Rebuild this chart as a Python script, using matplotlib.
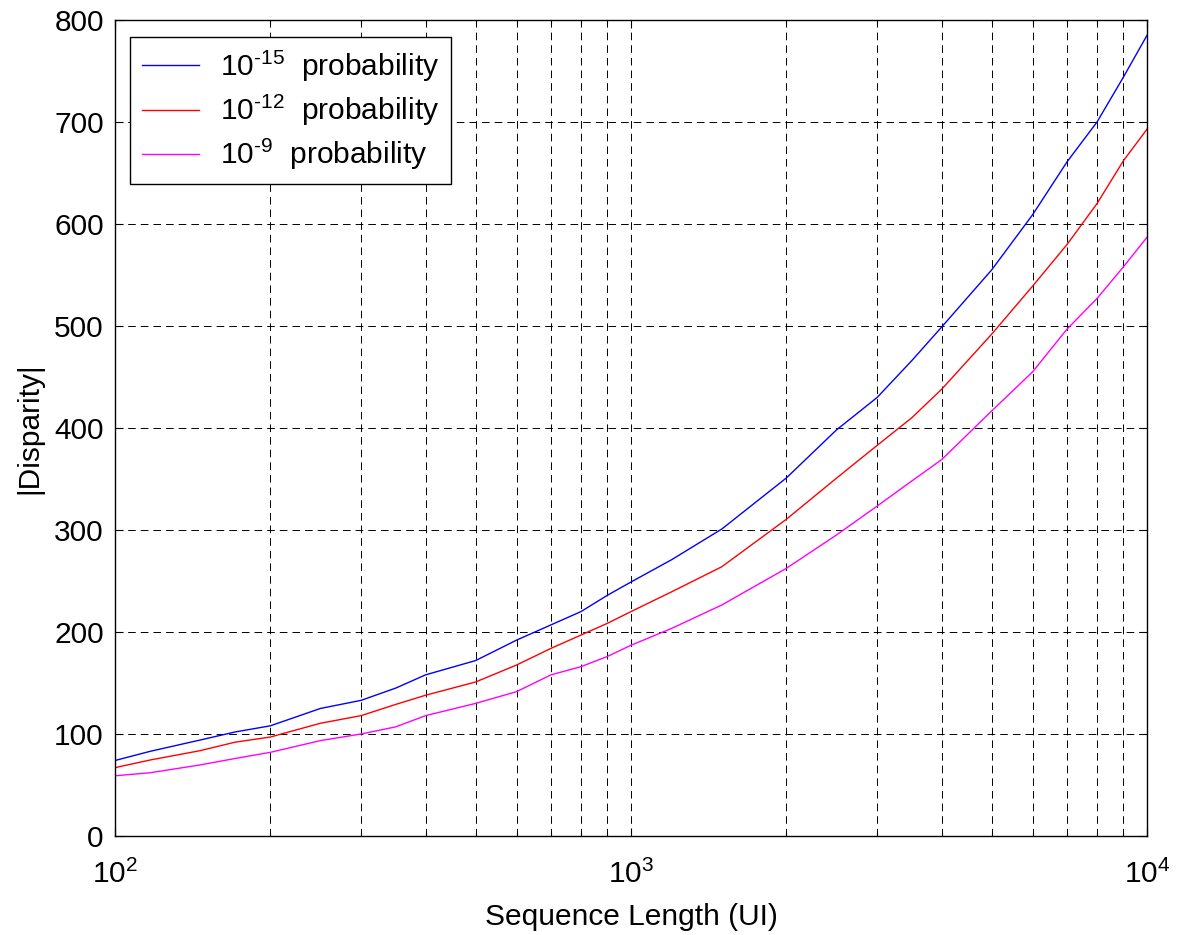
import numpy as np
import matplotlib
matplotlib.use('Agg')
import matplotlib.pyplot as plt
from matplotlib.ticker import LogLocator, NullFormatter, MultipleLocator

# sequence lengths (UI) and |disparity|
seq_len = [100, 117, 146, 171, 200, 250, 300, 350, 400, 500, 600, 700, 800, 900,
           1000, 1200, 1500, 2000, 2500, 3000, 3500, 4000, 5000, 6000, 7000,
           8000, 9000, 10000]
disp_1e15 = [74, 83, 94, 102, 108, 125, 133, 145, 158, 172, 192, 207, 220, 236,
             249, 271, 301, 351, 398, 430, 466, 499, 555, 609, 661, 700, 744, 785]
disp_1e12 = [67, 74.5, 83.6, 92, 97, 110.5, 118, 129, 138, 151, 167.6, 184, 197, 208.5,
             220, 239.5, 264, 310.5, 350.7, 383, 410, 438, 492, 539, 580, 620, 662, 693]
disp_1e9 = [59, 62, 69.6, 76, 82, 93.5, 100, 107, 118, 130, 141.5, 158, 166, 176,
            187, 203.6, 226.5, 262.4, 295, 323.5, 348, 369, 416.7, 455, 497, 527, 558, 587]

# hyphen (U+2010) instead of a math minus, like the MATLAB legend
labels = ['10$^{\u2010\\mathregular{15}}$  probability',
          '10$^{\u2010\\mathregular{12}}$  probability',
          '10$^{\u2010\\mathregular{9}}$  probability']
colors = ['#0000ff', '#ff0000', '#ff00ff']

plt.rcParams['font.family'] = ['Liberation Sans', 'DejaVu Sans']
plt.rcParams['mathtext.fontset'] = 'custom'
plt.rcParams['mathtext.rm'] = 'Liberation Sans'
plt.rcParams['mathtext.it'] = 'Liberation Sans'
plt.rcParams['mathtext.bf'] = 'Liberation Sans:bold'
plt.rcParams['lines.scale_dashes'] = False

fs = 21.5
fig = plt.figure(figsize=(11.78, 9.35), dpi=100)
ax = fig.add_axes([0.0976, 0.1059, 0.8761, 0.8727])

for ys, lab, c in zip([disp_1e15, disp_1e12, disp_1e9], labels, colors):
    ax.plot(seq_len, ys, color=c, lw=1.0, label=lab)

ax.set_xscale('log')
ax.set_xlim(100, 10000)
ax.set_ylim(0, 800)
ax.yaxis.set_major_locator(MultipleLocator(100))
ax.xaxis.set_minor_locator(LogLocator(base=10, subs=np.arange(2, 10)))
ax.xaxis.set_minor_formatter(NullFormatter())

ax.grid(True, which='major', color='k', lw=0.7, linestyle=(0, (5.5, 3.6)))
ax.grid(True, which='minor', axis='x', color='k', lw=0.7, linestyle=(0, (5.5, 3.6)))

ax.tick_params(which='both', direction='in', top=True, right=True, width=0.8)
ax.tick_params(which='major', length=6, labelsize=fs)
ax.tick_params(axis='x', which='major', pad=17)
ax.tick_params(axis='y', which='major', pad=8)
ax.tick_params(which='minor', length=3)
for s in ax.spines.values():
    s.set_linewidth(1.0)

ax.set_xlabel('Sequence Length (UI)', fontsize=fs, labelpad=10)
ax.set_ylabel('|Disparity|', fontsize=fs, labelpad=8)

leg = ax.legend(loc='upper left', bbox_to_anchor=(0.0145, 0.9795), borderaxespad=0,
                fontsize=fs, fancybox=False, edgecolor='k', framealpha=1,
                handlelength=1.9, handletextpad=0.7, labelspacing=0.3,
                borderpad=0.4)
leg.get_frame().set_linewidth(1.0)

fig.savefig('out.png', dpi=100, facecolor='white')
